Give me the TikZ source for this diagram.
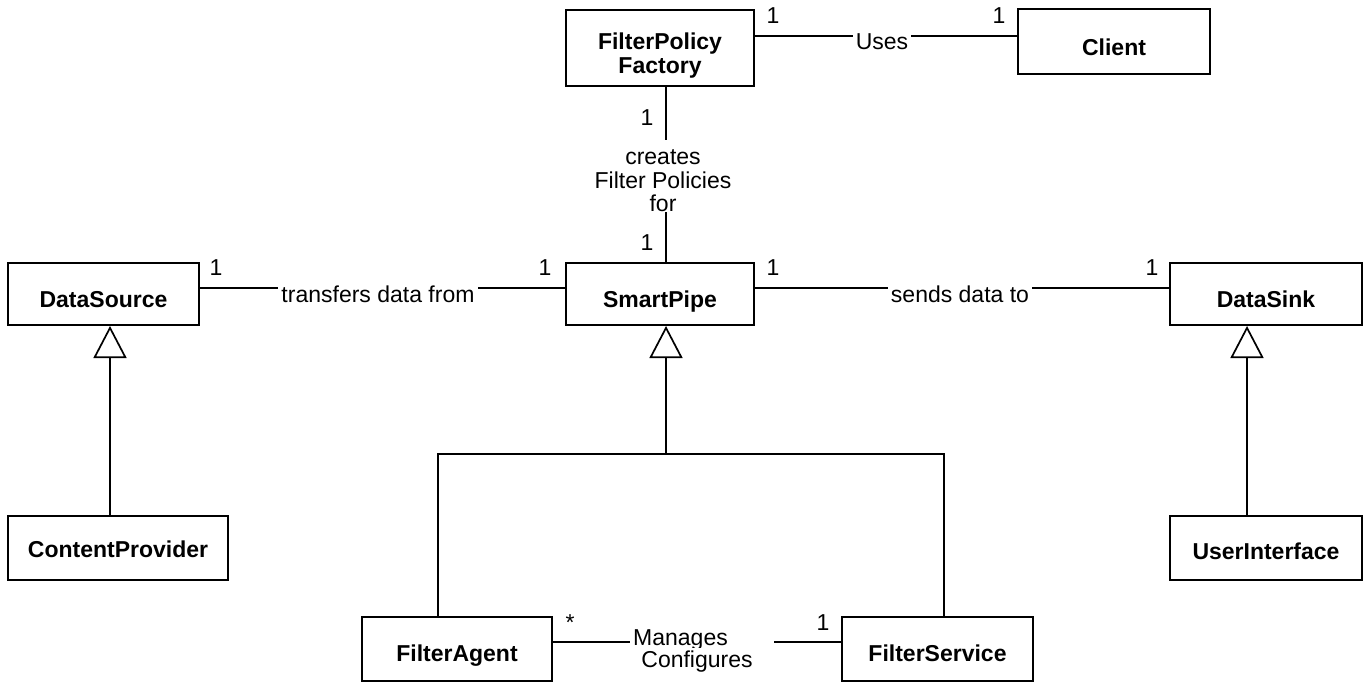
\documentclass[tikz,border=0pt]{standalone}
\usepackage{fontspec}
\setmainfont{Liberation Sans}
\usetikzlibrary{arrows.meta}
\newcommand\diagfont{\fontsize{23}{23.5}\selectfont}
\begin{document}
\begin{tikzpicture}[x=1pt, y=-1pt,
  cls/.style={draw, line width=2pt, font=\diagfont\bfseries, inner sep=0pt,
              text height=#1, text depth=0pt},
  clsml/.style={draw, line width=2pt, font=\diagfont\bfseries, inner sep=0pt, align=center},
  assoc/.style={line width=1.7pt},
  gen/.style={line width=1.7pt, -{Triangle[open, length=32pt, width=33pt]}},
  rel/.style={font=\diagfont, fill=white, inner xsep=3pt, inner ysep=0pt, anchor=base},
  mult/.style={font=\diagfont, inner sep=0pt, anchor=base}]
\useasboundingbox (0,0) rectangle (1364,681);

% classes
\node[clsml, minimum width=188pt, minimum height=76pt] (fpf) at (660,48)
  {\rule{0pt}{32pt}FilterPolicy\\Factory};
\node[cls=27pt, minimum width=192pt, minimum height=65pt] (cl) at (1114,41.5) {Client};
\node[cls=26pt, minimum width=191pt, minimum height=62pt] (ds) at (103.5,294) {DataSource};
\node[cls=26pt, minimum width=188pt, minimum height=62pt] (sp) at (660,294) {SmartPipe};
\node[cls=26pt, minimum width=192pt, minimum height=62pt] (dk) at (1266,294) {DataSink};
\node[cls=18pt, minimum width=220pt, minimum height=64pt] (cp) at (118,548) {ContentProvider};
\node[cls=22pt, minimum width=192pt, minimum height=64pt] (ui) at (1266,548) {UserInterface};
\node[cls=24pt, minimum width=190pt, minimum height=64pt] (fa) at (457,649) {FilterAgent};
\node[cls=24pt, minimum width=191pt, minimum height=64pt] (fs) at (937.5,649) {FilterService};

% reference levels for the connectors
\coordinate (yUses) at (0,36);
\coordinate (yMid) at (0,288);
\coordinate (yMan) at (0,642);
\coordinate (xPol) at (666,0);
\coordinate (xSrc) at (110,0);
\coordinate (xSink) at (1247,0);
\coordinate (xAgent) at (438,0);
\coordinate (xServ) at (944,0);
\coordinate (fork) at (666,454);

% label of the factory association
\node[font=\diagfont, inner sep=0pt, align=center] (cfp) at (663,180.5)
  {\rule{0pt}{16pt}creates\\Filter Policies\\for};

% associations
\draw[assoc] (fpf.east |- yUses) -- (cl.west |- yUses);
\draw[assoc] (ds.east |- yMid) -- (sp.west |- yMid);
\draw[assoc] (sp.east |- yMid) -- (dk.west |- yMid);
\draw[assoc] (fa.east |- yMan) -- (fs.west |- yMan);
\draw[assoc, shorten >=9pt] (fpf.south -| xPol) -- (cfp.north -| xPol);
\draw[assoc] (cfp.south -| xPol) -- (sp.north -| xPol);

% generalizations
\draw[gen] (cp.north -| xSrc) -- (ds.south -| xSrc);
\draw[gen] (ui.north -| xSink) -- (dk.south -| xSink);
\draw[assoc] (fa.north -| xAgent) |- (fork) -| (fs.north -| xServ);
\draw[gen] (fork) -- (sp.south -| fork);

% association names
\node[rel] (lUses) at (882,49) {Uses};
\node[rel] (lTr) at (378,302) {transfers data from};
\node[rel] (lSd) at (960,302) {sends data to};
\node[font=\diagfont, fill=white, inner xsep=3pt, inner ysep=0pt, text width=138pt,
      align=left, anchor=base west] (lMan) at (630,645) {Manages};
\node[rel, inner ysep=2pt] (lConf) at (697,667) {Configures};

% multiplicities
\node[mult] (m1) at (773,23) {1};
\node[mult] (m2) at (999,23) {1};
\node[mult] (m3) at (647,125) {1};
\node[mult] (m4) at (647,250) {1};
\node[mult] (m5) at (216,275) {1};
\node[mult] (m6) at (545,275) {1};
\node[mult] (m7) at (773,275) {1};
\node[mult] (m8) at (1152,275) {1};
\node[mult] (m9) at (570,630) {*};
\node[mult] (m10) at (823,630) {1};
\end{tikzpicture}
\end{document}
